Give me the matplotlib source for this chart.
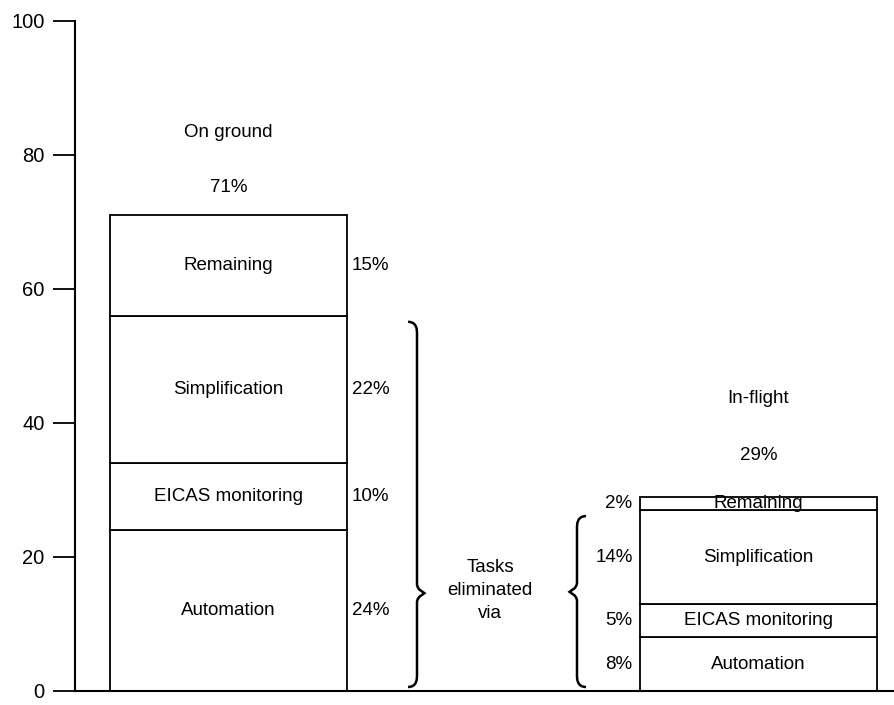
import matplotlib
matplotlib.use("Agg")
import matplotlib.pyplot as plt
from matplotlib.path import Path
from matplotlib.patches import PathPatch

plt.rcParams['font.family'] = ['Liberation Sans', 'DejaVu Sans']

# ---- data ----
groups = ["On ground", "In-flight"]
segments = ["Automation", "EICAS monitoring", "Simplification", "Remaining"]
on_ground = [24, 10, 22, 15]
in_flight = [8, 5, 14, 2]
yticks = [0, 20, 40, 60, 80, 100]
brace_text = "Tasks\neliminated\nvia"

values = [on_ground, in_flight]
FS = 13.5

fig = plt.figure(figsize=(8.95, 7.05), dpi=100)
ax = fig.add_axes([75/895, 14/705, 818/895, 670/705])

xpos = [0, 1]
width = 0.449
for xi, vals in zip(xpos, values):
    bottom = 0
    for name, v in zip(segments, vals):
        ax.bar(xi, v, width=width, bottom=bottom, facecolor='white',
               edgecolor='black', linewidth=1.3)
        ax.text(xi, bottom + v / 2, name, ha='center', va='center', fontsize=FS)
        bottom += v

# percent labels
b = 0
for v in on_ground:
    ax.annotate(f"{v}%", (xpos[0] + width/2, b + v/2), xytext=(3, 0),
                textcoords='offset points', ha='left', va='center', fontsize=FS)
    b += v
b = 0
for v in in_flight:
    ax.annotate(f"{v}%", (xpos[1] - width/2, b + v/2), xytext=(-5, 0),
                textcoords='offset points', ha='right', va='center', fontsize=FS)
    b += v

# group titles and totals
title_y = [83.4, 43.7]
total_y = [75.2, 35.2]
for xi, g, vals, ty, py in zip(xpos, groups, values, title_y, total_y):
    ax.text(xi, ty, g, ha='center', va='center', fontsize=FS)
    ax.text(xi, py, f"{sum(vals)}%", ha='center', va='center', fontsize=FS)

# braces
def brace(xv, top, bot, tip, direction, curl=0.017, dy=1.2, tipdx=0.014, tipdy=1.4):
    d = direction  # +1 tip to right, -1 tip to left
    verts = [
        (xv - d*curl, top),
        (xv, top), (xv, top - dy), (xv, top - dy*1.5),
        (xv, tip + tipdy),
        (xv, tip + tipdy*0.3), (xv + d*tipdx, tip + 0.1), (xv + d*tipdx, tip),
        (xv + d*tipdx, tip - 0.1), (xv, tip - tipdy*0.3), (xv, tip - tipdy),
        (xv, bot + dy*1.5),
        (xv, bot + dy), (xv, bot), (xv - d*curl, bot),
    ]
    codes = [Path.MOVETO,
             Path.CURVE4, Path.CURVE4, Path.CURVE4,
             Path.LINETO,
             Path.CURVE4, Path.CURVE4, Path.CURVE4,
             Path.CURVE4, Path.CURVE4, Path.CURVE4,
             Path.LINETO,
             Path.CURVE4, Path.CURVE4, Path.CURVE4]
    ax.add_patch(PathPatch(Path(verts, codes), facecolor='none',
                           edgecolor='black', linewidth=1.8, clip_on=False))

brace((417 - 228.5) / 530, 55.1, 0.6, 14.6, +1)
brace((577 - 228.5) / 530, 26.1, 0.6, 14.8, -1)
ax.text((490 - 228.5) / 530, 15.0, brace_text, ha='center', va='center',
        fontsize=FS, linespacing=1.45)

# axes styling
ax.set_ylim(0, 100)
ax.set_xlim((75 - 228.5) / 530, (893 - 228.5) / 530)
ax.set_yticks(yticks)
ax.set_yticklabels([str(t) for t in yticks], fontsize=14.5)
ax.tick_params(axis='y', direction='out', length=16, width=1.3, pad=6)
ax.set_xticks([])
for s in ['top', 'right']:
    ax.spines[s].set_visible(False)
ax.spines['left'].set_linewidth(1.5)
ax.spines['bottom'].set_linewidth(1.5)

fig.savefig("out.png", dpi=100)
